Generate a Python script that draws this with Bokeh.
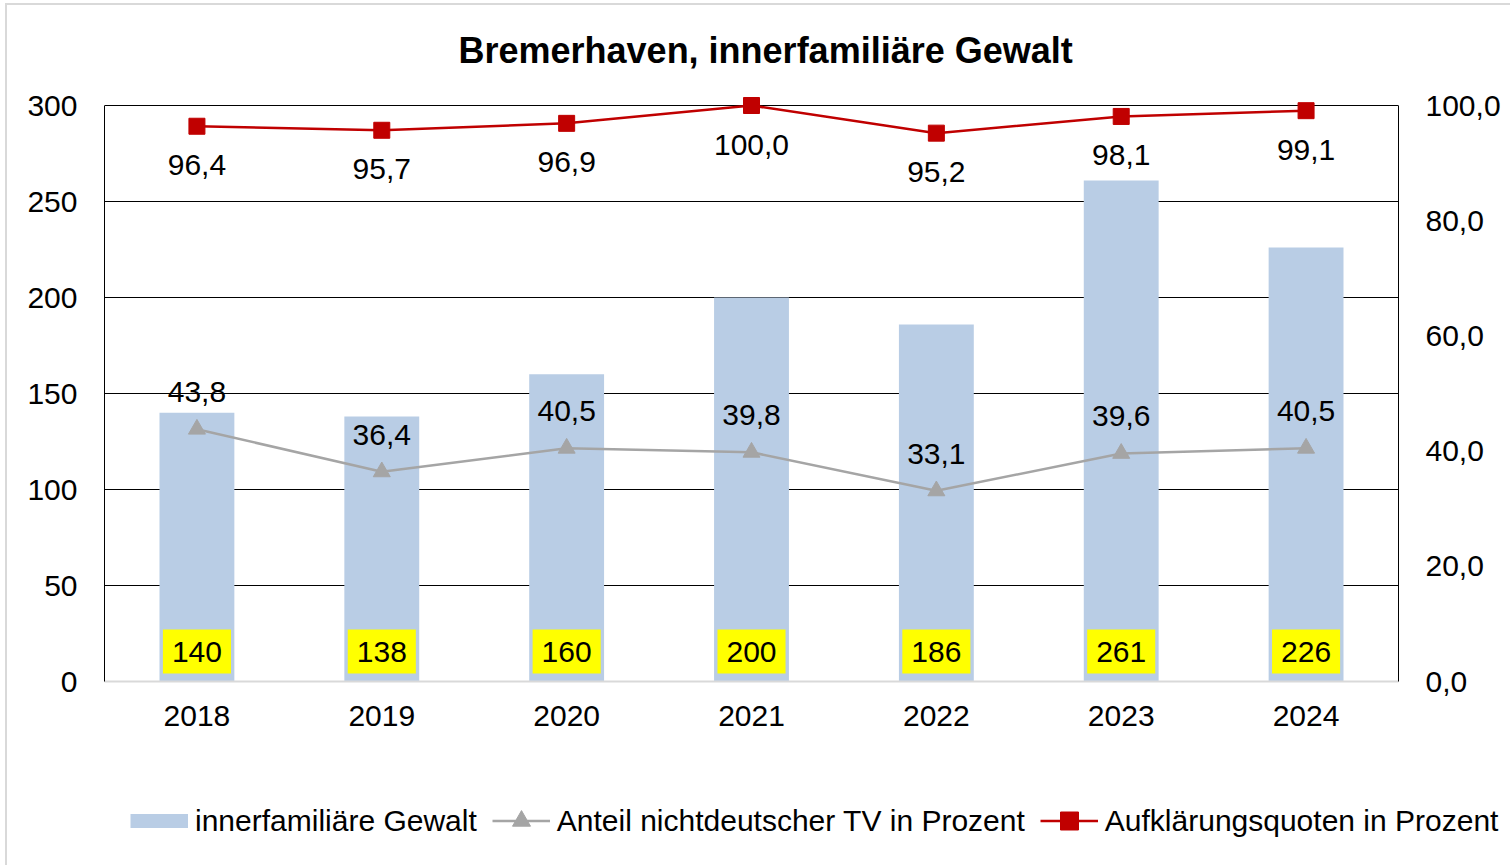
import math
from bokeh.plotting import figure
from bokeh.layouts import column
from bokeh.models import (Range1d, FactorRange, LinearAxis, FixedTicker, ColumnDataSource,
                          Legend, LegendItem)
from bokeh.core.properties import value
from bokeh.embed import file_html
from bokeh.resources import INLINE

years = ["2018", "2019", "2020", "2021", "2022", "2023", "2024"]
cases = [140, 138, 160, 200, 186, 261, 226]
share_foreign = [43.8, 36.4, 40.5, 39.8, 33.1, 39.6, 40.5]
clearance = [96.4, 95.7, 96.9, 100.0, 95.2, 98.1, 99.1]
left_ticks = [0, 50, 100, 150, 200, 250, 300]
right_ticks = [0, 20, 40, 60, 80, 100]
series_names = ["innerfamiliäre Gewalt", "Anteil nichtdeutscher TV in Prozent",
                "Aufklärungsquoten in Prozent"]

FONT = "Liberation Sans"
BAR_COLOR = "#B9CDE5"
GRAY = "#A5A5A5"
RED = "#C00000"
FRAME_GRAY = "#D9D9D9"

# the drawing area reaches a little above the top gridline, so markers at
# 100 % are not cut; axis lines are bounded to the tick span
HEADROOM = 585 / 576
LEFT_MAX = left_ticks[-1]
RIGHT_MAX = right_ticks[-1]


def de(v):
    return f"{v:.1f}".replace(".", ",")


src = ColumnDataSource(dict(
    year=years,
    cases=cases,
    cases_lbl=[str(c) for c in cases],
    zero=[0] * len(years),
    share=share_foreign,
    share_lbl=[de(v) for v in share_foreign],
    clear=clearance,
    clear_lbl=[de(v) for v in clearance],
))

chart = figure(width=1510, height=775, x_range=FactorRange(factors=years),
               y_range=Range1d(0, LEFT_MAX * HEADROOM), output_backend="svg",
               toolbar_location=None, min_border_left=104, min_border_right=112,
               min_border_top=96, min_border_bottom=94)
chart.extra_y_ranges = {"pct": Range1d(0, RIGHT_MAX * HEADROOM)}
chart.outline_line_color = None
chart.background_fill_color = "white"
chart.border_fill_alpha = 0
chart.styles = {
    "background": f"linear-gradient({FRAME_GRAY}, {FRAME_GRAY}) 5px 3px / 2px 100% no-repeat, "
                  f"linear-gradient({FRAME_GRAY}, {FRAME_GRAY}) 5px 3px / 100% 2px no-repeat, white"
}

# title
chart.title.text = "Bremerhaven, innerfamiliäre Gewalt"
chart.title.text_font = FONT
chart.title.text_font_size = "36px"
chart.title.text_font_style = "bold"
chart.title.text_color = "black"
chart.title.align = "left"
chart.title.offset = 354
chart.title.standoff = 52

# grid
chart.xgrid.grid_line_color = None
chart.ygrid.ticker = FixedTicker(ticks=left_ticks[1:])
chart.ygrid.grid_line_color = "black"
chart.ygrid.grid_line_width = 1

# axes
xa = chart.xaxis[0]
xa.axis_line_color = FRAME_GRAY
xa.axis_line_width = 2
xa.major_tick_line_color = None
xa.minor_tick_line_color = None
xa.major_label_text_font = FONT
xa.major_label_text_font_size = "30px"
xa.major_label_text_color = "black"
xa.major_label_standoff = 18

ya = chart.yaxis[0]
ya.ticker = FixedTicker(ticks=left_ticks)
ya.bounds = (0, LEFT_MAX)
ya.axis_line_color = "black"
ya.axis_line_width = 1
ya.major_tick_line_color = None
ya.minor_tick_line_color = None
ya.major_label_text_font = FONT
ya.major_label_text_font_size = "30px"
ya.major_label_text_color = "black"
ya.major_label_standoff = 21

ra = LinearAxis(y_range_name="pct", ticker=FixedTicker(ticks=right_ticks),
                major_label_overrides={t: de(t) for t in right_ticks},
                bounds=(0, RIGHT_MAX))
ra.axis_line_color = "black"
ra.axis_line_width = 1
ra.major_tick_line_color = None
ra.minor_tick_line_color = None
ra.major_label_text_font = FONT
ra.major_label_text_font_size = "30px"
ra.major_label_text_color = "black"
ra.major_label_standoff = 21
chart.add_layout(ra, "right")

# bars
chart.vbar(x="year", top="cases", width=0.405, source=src, fill_color=BAR_COLOR,
           line_color=None)

# lines
chart.line(x="year", y="share", source=src, y_range_name="pct", line_color=GRAY,
           line_width=2.5)
chart.scatter(x="year", y="share", source=src, y_range_name="pct", marker="triangle",
              size=17, fill_color=GRAY, line_color=GRAY)
chart.line(x="year", y="clear", source=src, y_range_name="pct", line_color=RED,
           line_width=2.5)
chart.scatter(x="year", y="clear", source=src, y_range_name="pct", marker="square",
              size=16, fill_color=RED, line_color=RED)

# labels
chart.text(x="year", y="zero", text="cases_lbl", source=src, text_align="center",
           text_baseline="middle", y_offset=-30, text_font=value(FONT),
           text_font_size="30px", text_color="black", background_fill_color="#FFFF00",
           padding=dict(x=9, y=12))
chart.text(x="year", y="share", text="share_lbl", source=src, y_range_name="pct",
           text_align="center", text_baseline="middle", y_offset=-37,
           text_font=value(FONT), text_font_size="30px", text_color="black")
chart.text(x="year", y="clear", text="clear_lbl", source=src, y_range_name="pct",
           text_align="center", text_baseline="middle", y_offset=39,
           text_font=value(FONT), text_font_size="30px", text_color="black")

# legend strip (separate figure below the chart, same width)
leg = figure(width=1510, height=90, x_range=Range1d(0, 1), y_range=Range1d(0, 1),
             output_backend="svg", toolbar_location=None, x_axis_type=None,
             y_axis_type=None, min_border=0)
leg.frame_align = False
leg.outline_line_color = None
leg.background_fill_alpha = 0
leg.border_fill_alpha = 0
leg.xgrid.grid_line_color = None
leg.ygrid.grid_line_color = None
leg.styles = {
    "background": f"linear-gradient({FRAME_GRAY}, {FRAME_GRAY}) 5px 0px / 2px 100% no-repeat, white"
}
nan = float("nan")
d_bar = leg.line(x=[0, 1], y=[nan, nan], line_color=BAR_COLOR, line_width=14)
d_gl = leg.line(x=[0, 1], y=[nan, nan], line_color=GRAY, line_width=2.5)
d_gs = leg.scatter(x=[0], y=[nan], marker="triangle", fill_color=GRAY, line_color=GRAY)
d_rl = leg.line(x=[0, 1], y=[nan, nan], line_color=RED, line_width=2.5)
d_rs = leg.scatter(x=[0], y=[nan], marker="square", fill_color=RED, line_color=RED)

legend = Legend(items=[
    LegendItem(label=series_names[0], renderers=[d_bar]),
    LegendItem(label=series_names[1], renderers=[d_gl, d_gs]),
    LegendItem(label=series_names[2], renderers=[d_rl, d_rs]),
], orientation="horizontal", location=(130, 22), glyph_width=58, glyph_height=45,
    label_standoff=7, spacing=15, padding=0, margin=0, border_line_color=None,
    background_fill_alpha=0, label_text_font=FONT, label_text_font_size="30px",
    label_text_color="black")
leg.add_layout(legend, "center")

p = column(chart, leg, spacing=0)

open("out.html", "w").write(file_html(p, INLINE))
